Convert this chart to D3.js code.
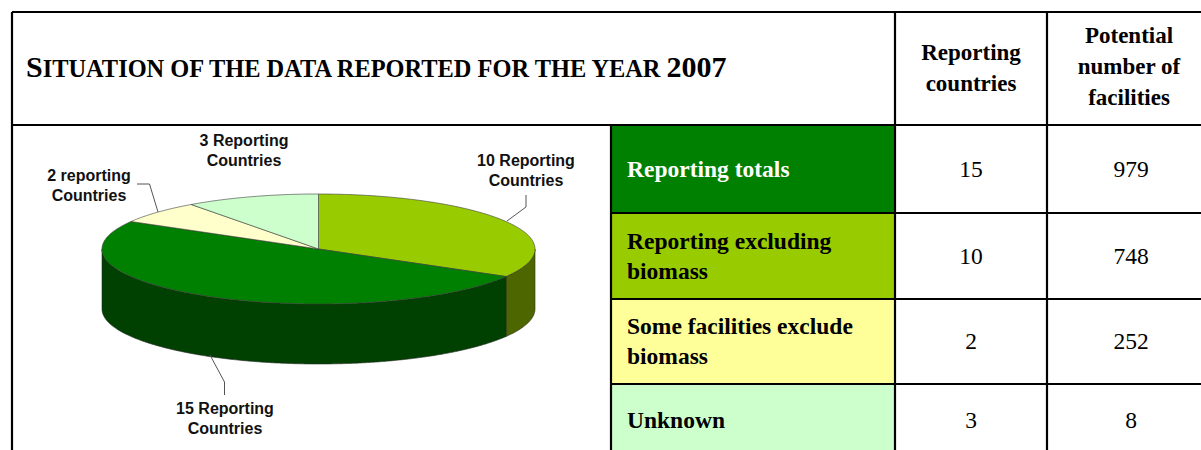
<!DOCTYPE html>
<html>
<head>
<meta charset="utf-8">
<script src="https://cdn.jsdelivr.net/npm/d3@7"></script>
<style>
  html, body { margin: 0; padding: 0; background: #fff; }
  svg { display: block; }
</style>
</head>
<body>
<svg id="chart" width="1201" height="450"></svg>
<script>
// ---------- data ----------
const categories = ["Reporting totals", "Reporting excluding biomass", "Some facilities exclude biomass", "Unknown"];
const categoryLines = [["Reporting totals"], ["Reporting excluding", "biomass"], ["Some facilities exclude", "biomass"], ["Unknown"]];
const reportingCountries = [15, 10, 2, 3];
const potentialFacilities = [979, 748, 252, 8];
const headerCountries = ["Reporting", "countries"];
const headerFacilities = ["Potential", "number of", "facilities"];
const titleParts = ["S", "ITUATION OF THE DATA REPORTED FOR THE YEAR ", "2007"];
// pie drawn in this category order (clockwise from 12 o'clock)
const pieOrder = [1, 0, 2, 3];
const pieLabels = [["10 Reporting", "Countries"], ["15 Reporting", "Countries"], ["2 reporting", "Countries"], ["3 Reporting", "Countries"]];

// ---------- styles ----------
const cellColors = ["#008000", "#99CC00", "#FFFF99", "#CCFFCC"];
const pieTopColors = ["#008000", "#99CC00", "#FFFFCC", "#CCFFCC"];
const pieSideColors = ["#004000", "#4D6600", "#808066", "#668066"];
const cellTextColors = ["#ffffff", "#000000", "#000000", "#000000"];

const svg = d3.select("#chart");
const serif = "'Liberation Serif', 'Times New Roman', serif";
const sans = "'Liberation Sans', Arial, sans-serif";
const fs = 23;
const fsBody = 23.5;

// ---------- table geometry ----------
const L = 12, T = 12, R = 1215, B = 470;
const headerB = 125;
const colX = [611, 895, 1047, R];
const rowY = d3.scaleOrdinal().domain(d3.range(5)).range([125, 213, 299, 384, B]);

// cell fills
svg.selectAll("rect.cell").data(categories).join("rect")
  .attr("x", colX[0]).attr("y", (d, i) => rowY(i))
  .attr("width", colX[1] - colX[0]).attr("height", (d, i) => rowY(i + 1) - rowY(i))
  .attr("fill", (d, i) => cellColors[i]);

// lines
const lines = [];
lines.push([L, T, R, T]);
lines.push([L, headerB, R, headerB]);
lines.push([L, T, L, B]);
lines.push([colX[1], T, colX[1], B]);
lines.push([colX[2], T, colX[2], B]);
lines.push([colX[0], headerB, colX[0], B]);
for (let i = 1; i < 4; i++) lines.push([colX[0], rowY(i), R, rowY(i)]);
svg.selectAll("line.grid").data(lines).join("line")
  .attr("x1", d => d[0]).attr("y1", d => d[1]).attr("x2", d => d[2]).attr("y2", d => d[3])
  .attr("stroke", "#000").attr("stroke-width", 2.2);

// title
const title = svg.append("text").attr("x", 26).attr("y", 77)
  .attr("font-family", serif).attr("font-weight", "bold").attr("fill", "#000");
title.append("tspan").attr("font-size", 30).text(titleParts[0]);
title.append("tspan").attr("font-size", 24.4).text(titleParts[1]);
title.append("tspan").attr("font-size", 30).text(titleParts[2]);

// headers
const hdr = (lns, cx, y0, dy) => {
  svg.append("g").selectAll("text").data(lns).join("text")
    .attr("x", cx).attr("y", (d, i) => y0 + i * dy)
    .attr("text-anchor", "middle").attr("font-family", serif)
    .attr("font-weight", "bold").attr("font-size", fs).attr("fill", "#000")
    .text(d => d);
};
hdr(headerCountries, (colX[1] + colX[2]) / 2, 60, 31);
hdr(headerFacilities, 1129, 43, 31);

// row labels & values
categories.forEach((c, i) => {
  const y0 = rowY(i), y1 = rowY(i + 1);
  const mid = i === 3 ? 420 : (y0 + y1) / 2;
  const ls = categoryLines[i];
  const lh = 30;
  const first = mid - (ls.length - 1) * lh / 2 + 7.5;
  svg.append("g").selectAll("text").data(ls).join("text")
    .attr("x", 627).attr("y", (d, k) => first + k * lh)
    .attr("font-family", serif).attr("font-weight", "bold").attr("font-size", fsBody)
    .attr("fill", cellTextColors[i]).text(d => d);
  svg.append("text").attr("x", (colX[1] + colX[2]) / 2).attr("y", mid + 7.5)
    .attr("text-anchor", "middle").attr("font-family", serif).attr("font-size", fsBody)
    .attr("fill", "#000").text(reportingCountries[i]);
  svg.append("text").attr("x", 1131).attr("y", mid + 7.5)
    .attr("text-anchor", "middle").attr("font-family", serif).attr("font-size", fsBody)
    .attr("fill", "#000").text(potentialFacilities[i]);
});

// ---------- 3D pie ----------
const cx = 318.5, cy = 249, rx = 216.5, ry = 55, depth = 60;
const pieData = pieOrder.map((ci, k) => ({ ci, v: reportingCountries[ci], label: pieLabels[k] }));
const arcs = d3.pie().sort(null).value(d => d.v).startAngle(0).endAngle(2 * Math.PI)(pieData);
const P = (a, dy = 0) => [cx + rx * Math.sin(a), cy - ry * Math.cos(a) + dy];
const arcPts = (a0, a1, dy = 0) => {
  const n = Math.max(2, Math.ceil((a1 - a0) / 0.01));
  return d3.range(n + 1).map(k => P(a0 + (a1 - a0) * k / n, dy));
};
const lineGen = d3.line();
const gPie = svg.append("g");
// side walls
arcs.forEach(a => {
  const s = Math.max(a.startAngle, Math.PI / 2), e = Math.min(a.endAngle, 3 * Math.PI / 2);
  if (s < e) {
    const pts = arcPts(s, e).concat(arcPts(s, e, depth).reverse());
    gPie.append("path").attr("d", lineGen(pts) + "Z")
      .attr("fill", pieSideColors[a.data.ci]).attr("stroke", "#2a2a2a").attr("stroke-width", 0.6)
      .attr("stroke-linejoin", "round");
  }
});
// top faces
arcs.forEach(a => {
  const pts = [[cx, cy]].concat(arcPts(a.startAngle, a.endAngle));
  gPie.append("path").attr("d", lineGen(pts) + "Z")
    .attr("fill", pieTopColors[a.data.ci]).attr("stroke", "#3a3a3a").attr("stroke-width", 0.6)
    .attr("stroke-linejoin", "round");
});

// leader lines & labels
const leaders = [
  [[526, 195], [526, 207], [507, 221]],
  [[210, 355], [224.5, 382], [224.5, 395]],
  [[137, 184], [149.5, 184], [158, 212]],
  null
];
const labelPos = [[526, 166], [225, 414], [89, 181], [244, 146]];
arcs.forEach((a, k) => {
  if (leaders[k]) {
    svg.append("path").attr("d", lineGen(leaders[k])).attr("fill", "none")
      .attr("stroke", "#555").attr("stroke-width", 1);
  }
  svg.append("g").selectAll("text").data(a.data.label).join("text")
    .attr("x", labelPos[k][0]).attr("y", (d, i) => labelPos[k][1] + i * 20)
    .attr("text-anchor", "middle").attr("font-family", sans).attr("font-weight", "bold")
    .attr("font-size", 16).attr("fill", "#111").text(d => d);
});
</script>
</body>
</html>
